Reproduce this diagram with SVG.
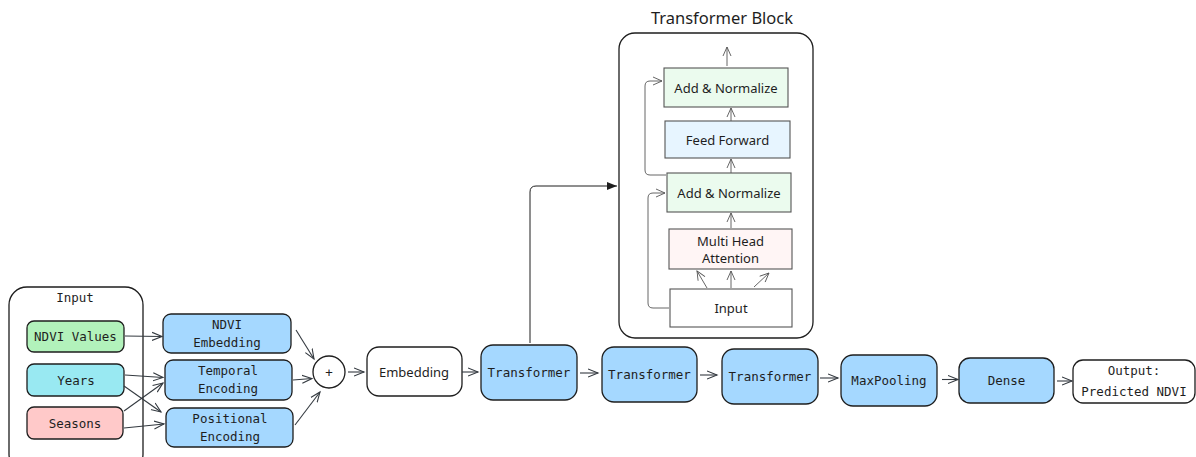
<svg xmlns="http://www.w3.org/2000/svg" width="1196" height="457" viewBox="0 0 1196 457">
  <style>
    .code { font-family: "DejaVu Sans Mono", "Liberation Mono", monospace; font-size: 12.5px; fill: #1e1e1e; text-anchor: middle; dominant-baseline: central; }
    .hand { font-family: "Noto Sans", "Liberation Sans", sans-serif; font-size: 13px; fill: #1e1e1e; text-anchor: middle; dominant-baseline: central; }
    .title { font-family: "Noto Sans", "Liberation Sans", sans-serif; font-size: 16.5px; fill: #1e1e1e; text-anchor: middle; dominant-baseline: central; }
    .box { stroke: #1e1e1e; stroke-width: 1.3; }
    .inner { stroke: #555; stroke-width: 1.1; }
    .blue { fill: #a5d8ff; }
    .white { fill: #ffffff; }
    .wire { fill: none; stroke: #343a40; stroke-width: 1.1; marker-end: url(#open); }
    .thin { fill: none; stroke: #555; stroke-width: 0.9; marker-end: url(#openThin); }
  </style>
  <defs>
    <marker id="open" markerUnits="userSpaceOnUse" markerWidth="12" markerHeight="10" refX="10" refY="5" orient="auto">
      <path d="M0,1 L10,5 L0,9" fill="none" stroke="#343a40" stroke-width="1.1"/>
    </marker>
    <marker id="openThin" markerUnits="userSpaceOnUse" markerWidth="12" markerHeight="10" refX="10" refY="5" orient="auto">
      <path d="M1,1 L10,5 L1,9" fill="none" stroke="#555" stroke-width="0.9"/>
    </marker>
    <marker id="solid" markerUnits="userSpaceOnUse" markerWidth="12" markerHeight="10" refX="10" refY="5" orient="auto">
      <path d="M0,1 L10,5 L0,9 Z" fill="#1e1e1e"/>
    </marker>
  </defs>

  <!-- input group frame -->
  <g id="input-group">
    <rect x="9" y="287" width="134" height="185" rx="18" fill="none" class="box"/>
    <text x="75" y="297" class="code">Input</text>
  </g>

  <g id="ndvi-values">
    <rect x="27" y="321" width="97" height="31" rx="7" fill="#b2f2bb" class="box"/>
    <text x="75.5" y="336.5" class="code">NDVI Values</text>
  </g>
  <g id="years">
    <rect x="27" y="364" width="97" height="32" rx="7" fill="#99e9f2" class="box"/>
    <text x="76" y="380" class="code">Years</text>
  </g>
  <g id="seasons">
    <rect x="27" y="407" width="96" height="32" rx="7" fill="#ffc9c9" class="box"/>
    <text x="75" y="423" class="code">Seasons</text>
  </g>

  <g id="ndvi-embedding">
    <rect x="163" y="314" width="128" height="39" rx="8" class="box blue"/>
    <text x="227" y="324" class="code">NDVI</text>
    <text x="227" y="342" class="code">Embedding</text>
  </g>
  <g id="temporal-encoding">
    <rect x="165" y="360" width="127" height="40" rx="8" class="box blue"/>
    <text x="228" y="370" class="code">Temporal</text>
    <text x="228" y="388" class="code">Encoding</text>
  </g>
  <g id="positional-encoding">
    <rect x="166" y="408" width="127" height="39" rx="8" class="box blue"/>
    <text x="230" y="418" class="code">Positional</text>
    <text x="230" y="436" class="code">Encoding</text>
  </g>

  <g id="sum">
    <circle cx="329" cy="372" r="16" fill="#ffffff" class="box"/>
    <text x="329" y="372" class="code">+</text>
  </g>

  <g id="embedding">
    <rect x="367" y="347" width="95" height="49" rx="12" class="box white"/>
    <text x="414" y="372" class="hand">Embedding</text>
  </g>

  <g id="transformer-1">
    <rect x="481" y="345" width="96" height="55" rx="12" class="box blue"/>
    <text x="529" y="372" class="code">Transformer</text>
  </g>
  <g id="transformer-2">
    <rect x="602" y="347" width="95" height="55" rx="12" class="box blue"/>
    <text x="649.5" y="374" class="code">Transformer</text>
  </g>
  <g id="transformer-3">
    <rect x="722" y="349" width="96" height="55" rx="12" class="box blue"/>
    <text x="770" y="376" class="code">Transformer</text>
  </g>
  <g id="maxpooling">
    <rect x="841" y="355" width="96" height="51" rx="12" class="box blue"/>
    <text x="889" y="380" class="code">MaxPooling</text>
  </g>
  <g id="dense">
    <rect x="959" y="358" width="95" height="45" rx="11" class="box blue"/>
    <text x="1006.5" y="380" class="code">Dense</text>
  </g>
  <g id="output">
    <rect x="1073" y="360" width="122" height="43" rx="10" class="box white"/>
    <text x="1134" y="370.5" class="code">Output:</text>
    <text x="1134" y="391" class="code">Predicted NDVI</text>
  </g>

  <!-- transformer block detail -->
  <g id="transformer-block">
    <text x="722" y="17" class="title">Transformer Block</text>
    <rect x="619" y="33" width="194" height="305" rx="16" fill="none" class="box" stroke-width="1.1"/>
  </g>
  <g id="add-norm-top">
    <rect x="664" y="68" width="124" height="39" fill="#ebfbee" class="inner"/>
    <text x="726" y="87.5" class="hand">Add &amp; Normalize</text>
  </g>
  <g id="feed-forward">
    <rect x="665" y="121" width="125" height="37" fill="#e7f5ff" class="inner"/>
    <text x="727.5" y="139.5" class="hand">Feed Forward</text>
  </g>
  <g id="add-norm-bottom">
    <rect x="667" y="173" width="124" height="39" fill="#ebfbee" class="inner"/>
    <text x="729" y="192.5" class="hand">Add &amp; Normalize</text>
  </g>
  <g id="multi-head-attention">
    <rect x="669" y="229" width="123" height="40" fill="#fff5f5" class="inner"/>
    <text x="730.5" y="240.5" class="hand">Multi Head</text>
    <text x="730.5" y="258" class="hand">Attention</text>
  </g>
  <g id="block-input">
    <rect x="670" y="289" width="122" height="38" fill="#ffffff" class="inner"/>
    <text x="731" y="308" class="hand">Input</text>
  </g>

  <g id="connectors">
    <!-- inputs to encoders -->
    <path d="M125,336 L162,336.5" class="wire"/>
    <path d="M125,375 L163,377.5" class="wire"/>
    <path d="M124,386 L161,412" class="wire"/>
    <path d="M124,411 L163,383" class="wire"/>
    <path d="M124,428 L164,424" class="wire"/>
    <!-- encoders to sum -->
    <path d="M296,330 L314,359" class="wire"/>
    <path d="M293,380 L312,378.5" class="wire"/>
    <path d="M295,425 L320,392" class="wire"/>
    <!-- main pipeline -->
    <path d="M348,372 L364,372" class="wire"/>
    <path d="M462,372 L478,372" class="wire"/>
    <path d="M580,373 L598,373" class="wire"/>
    <path d="M700,375 L717,375" class="wire"/>
    <path d="M820,378 L838,378" class="wire"/>
    <path d="M942,379.5 L958,379.5" class="wire"/>
    <path d="M1057,381 L1072,381" class="wire"/>
    <!-- first transformer expanded into block -->
    <path d="M530,343 L530,192 Q530,186 536,186 L617,186" fill="none" stroke="#1e1e1e" stroke-width="1" marker-end="url(#solid)"/>
    <!-- inside the block -->
    <path d="M727,66 L727,47" class="thin"/>
    <path d="M731,121 L731,108" class="thin"/>
    <path d="M731,173 L731,159" class="thin"/>
    <path d="M731,228 L731,213" class="thin"/>
    <path d="M707,288 L697,271" class="thin"/>
    <path d="M731,288 L731,271" class="thin"/>
    <path d="M754,287 L769,273" class="thin"/>
    <path d="M666,175 L650,175 Q645,175 645,170 L645,86 Q645,81 650,81 L662,81" class="thin"/>
    <path d="M669,308 L653,308 Q648,308 648,303 L648,198 Q648,193 653,193 L665,193" class="thin"/>
  </g>
</svg>
